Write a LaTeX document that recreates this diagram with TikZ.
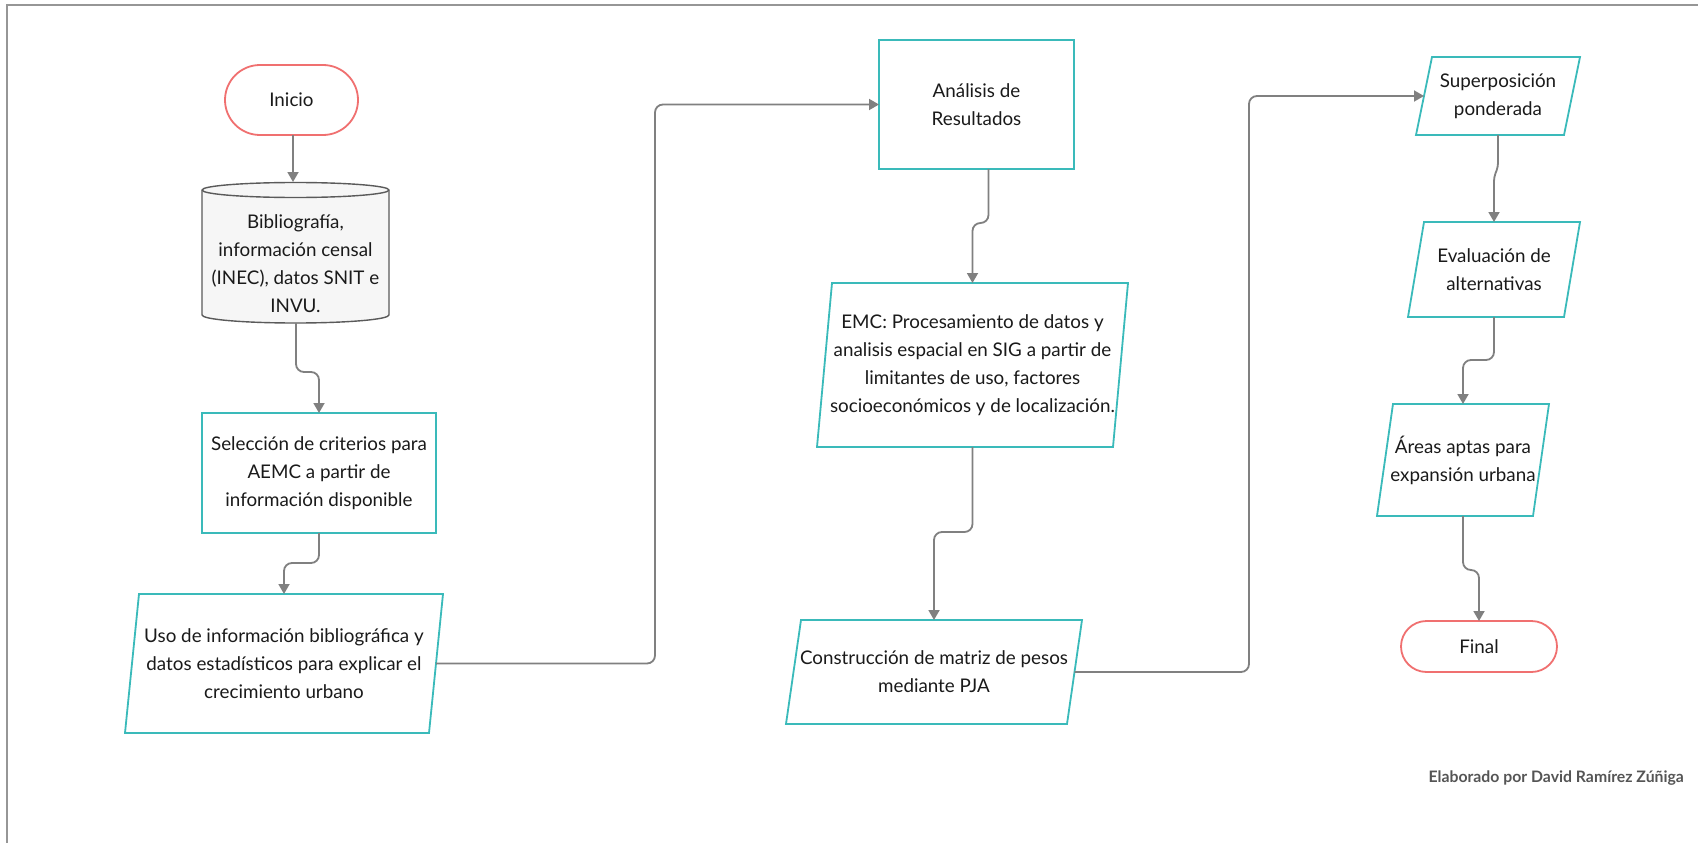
\documentclass[tikz,border=0pt]{standalone}
\usepackage{fontspec}
\setmainfont{Lato}
\usetikzlibrary{arrows.meta,calc}
\definecolor{tealc}{RGB}{58,186,186}
\definecolor{termc}{RGB}{240,112,112}
\definecolor{connc}{RGB}{128,128,128}
\definecolor{txt}{RGB}{26,26,26}
\definecolor{cylst}{RGB}{90,90,90}
\definecolor{cylfill}{RGB}{246,246,246}
\definecolor{framec}{RGB}{150,150,150}
\definecolor{credc}{RGB}{85,85,85}
\newcommand\parashape[2]{\draw[parast] ($(#1.north west)+(#2,0)$) -- (#1.north east) -- ($(#1.south east)-(#2,0)$) -- (#1.south west) -- cycle;}
\begin{document}
\begin{tikzpicture}[x=1pt,y=-1pt,
  lbl/.style={font=\fontsize{18.8}{28}\selectfont, text=txt, align=center, inner sep=0pt, outer sep=0pt},
  rectbox/.style={lbl, draw=tealc, line width=1.8pt, fill=white},
  parabox/.style={lbl},
  parast/.style={draw=tealc, line width=1.8pt, line join=miter},
  term/.style={lbl, draw=termc, line width=1.8pt, fill=white},
  conn/.style={draw=connc, line width=1.8pt, rounded corners=8pt, -{Triangle[length=10pt,width=11pt]}}]
\useasboundingbox (0,0) rectangle (1698,843);
\fill[white] (0,0) rectangle (1698,843);
% frame
\draw[framec, line width=2.2pt] (7,850) -- (7,5) -- (1705,5);

% Inicio
\node[term, minimum width=133pt, minimum height=70pt, rounded corners=35pt] (inicio) at (291.5,100) {Inicio};

% cylinder
\draw[draw=cylst, fill=cylfill, line width=1.4pt] (202,190) -- (202,315) arc[start angle=180, end angle=360, x radius=93.5pt, y radius=8pt] -- (389,190) arc[start angle=0, end angle=180, x radius=93.5pt, y radius=7.5pt] -- cycle;
\draw[draw=cylst, line width=1.4pt] (202,190) arc[start angle=180, end angle=360, x radius=93.5pt, y radius=7.5pt];
\node[lbl] (cyl) at (295.5,264) {Bibliografía,\\información censal\\(INEC), datos SNIT e\\INVU.};
\coordinate (cyltop) at (293,182);
\coordinate (cylbot) at (296,323);

% Seleccion
\node[rectbox, minimum width=234pt, minimum height=120pt] (sel) at (319,473) {Selección de criterios para\\AEMC a partir de\\información disponible};

% Uso
\node[parabox, minimum width=318pt, minimum height=139pt] (uso) at (284,663.5) {};
\parashape{uso}{14}
\node[lbl] (usot) at (uso.center) {Uso de información bibliográfica y\\datos estadísticos para explicar el\\crecimiento urbano};

% Analisis
\node[rectbox, minimum width=195pt, minimum height=129pt] (ana) at (976.5,104.5) {Análisis de\\Resultados};

% EMC
\node[parabox, minimum width=311pt, minimum height=164pt] (emc) at (972.5,365) {};
\parashape{emc}{15}
\node[lbl] (emct) at (emc.center) {EMC: Procesamiento de datos y\\analisis espacial en SIG a partir de\\limitantes de uso, factores\\socioeconómicos y de localización.};

% Construccion
\node[parabox, minimum width=296pt, minimum height=104pt] (cons) at (934,672) {};
\parashape{cons}{15}
\node[lbl] (const) at (cons.center) {Construcción de matriz de pesos\\mediante PJA};

% Superposicion
\node[parabox, minimum width=164pt, minimum height=78pt] (sup) at (1498,96) {};
\parashape{sup}{16}
\node[lbl] (supt) at (sup.center) {Superposición\\ponderada};

% Evaluacion
\node[parabox, minimum width=172pt, minimum height=95pt] (eva) at (1494,269.5) {};
\parashape{eva}{16}
\node[lbl] (evat) at (eva.center) {Evaluación de\\alternativas};

% Areas
\node[parabox, minimum width=172pt, minimum height=112pt] (are) at (1463,460) {};
\parashape{are}{16}
\node[lbl] (aret) at (are.center) {Áreas aptas para\\expansión urbana};

% Final
\node[term, minimum width=156pt, minimum height=51pt, rounded corners=25.5pt] (final) at (1479,646.5) {Final};

% credit
\node[font=\fontsize{15.8}{18}\selectfont\bfseries, text=credc, anchor=east, inner sep=0pt] (credit) at (1684,778) {Elaborado por David Ramírez Zúñiga};

% connectors
\draw[conn] (inicio.south -| cyltop) -- (cyltop);
\draw[conn] (cylbot) -- ++(0,49) -| (sel.north);
\draw[conn] (sel.south) -- ++(0,30) -| (uso.north);
\draw[conn] ($(uso.east)+(-7,0)$) -- (655,663.5) |- (ana.west);
\draw[conn] ($(ana.south)+(12,0)$) -- ++(0,54) -| (emc.north);
\draw[conn] (emc.south) -- ++(0,85) -| (cons.north);
\draw[conn] ($(cons.east)+(-7.5,0)$) -- (1249,672) |- ($(sup.west)+(8,0)$);
\draw[conn, rounded corners=4pt] (sup.south) -- ++(0,32) -- ++(-4,10) -- (eva.north);
\draw[conn] (eva.south) -- ++(0,43) -| (are.north);
\draw[conn] (are.south) -- ++(0,54) -| (final.north);
\end{tikzpicture}
\end{document}
